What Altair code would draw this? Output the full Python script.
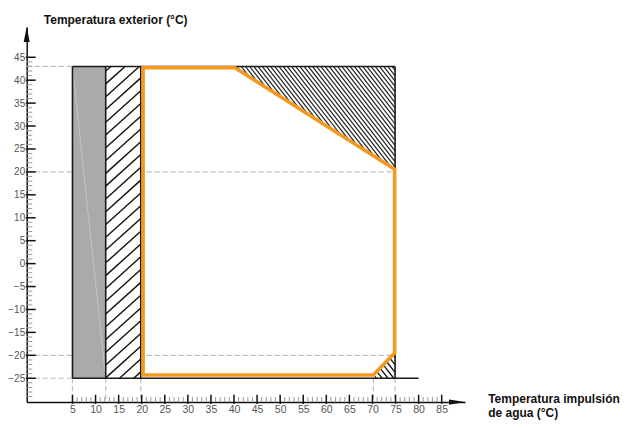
import math
import altair as alt
import pandas as pd

# ---------------- data ----------------
x_ticks = [5, 10, 15, 20, 25, 30, 35, 40, 45, 50, 55, 60, 65, 70, 75, 80, 85]
y_ticks = [-25, -20, -15, -10, -5, 0, 5, 10, 15, 20, 25, 30, 35, 40, 45]
x_min, x_max = -4.92, 90.05
y_min, y_max = -30.2, 51.6

gray_zone = [5, 12.2, -25, 43]       # x, x2, y, y2
hatch_zone = [12.2, 19.8, -25, 43]

orange_x = [20.3, 40.2, 74.8, 74.8, 70.2, 20.3, 20.3]
orange_y = [42.7, 42.7, 20.6, -19.5, -24.3, -24.3, 42.7]

top_tri_x = [40.2, 74.9, 74.9]
top_tri_y = [43, 43, 20.6]
bot_tri_x = [70.2, 74.9, 74.9]
bot_tri_y = [-25, -25, -19.5]

frame = [  # x, y, x2, y2
    (5, 43, 74.9, 43), (74.9, 43, 74.9, 20.6), (74.9, -19.5, 74.9, -25),
    (5, -25, 80, -25), (5, -25, 5, 43), (12.2, -25, 12.2, 43), (19.8, -25, 19.8, 43),
]
dashed = [
    (x_min, 43, 5, 43), (x_min, 20, 74.9, 20), (x_min, -20, 74.9, -20), (x_min, -25, 5, -25),
    (5, -25, 5, y_min), (12.2, -25, 12.2, y_min), (19.8, -25, 19.8, y_min),
    (70.2, -25, 70.2, y_min), (74.9, -25, 74.9, y_min),
]
faint_diag = [(5, 43, 12.2, -25)]

# ---------------- helpers ----------------
SX, SY = 4.615, 4.586  # px per unit (for hatching geometry only)


def hatch(xs, ys, angle_deg, spacing_px):
    pts = [(x * SX, y * SY) for x, y in zip(xs, ys)]
    a = math.radians(angle_deg)
    d = (math.cos(a), math.sin(a))
    n = (-math.sin(a), math.cos(a))
    proj = [n[0] * p[0] + n[1] * p[1] for p in pts]
    lo, hi = min(proj), max(proj)
    segs = []
    c = lo + spacing_px / 2
    m = len(pts)
    while c < hi:
        hits = []
        for i in range(m):
            p1, p2 = pts[i], pts[(i + 1) % m]
            s1 = n[0] * p1[0] + n[1] * p1[1] - c
            s2 = n[0] * p2[0] + n[1] * p2[1] - c
            if (s1 <= 0 < s2) or (s2 <= 0 < s1):
                t = s1 / (s1 - s2)
                hits.append((p1[0] + (p2[0] - p1[0]) * t, p1[1] + (p2[1] - p1[1]) * t))
        if len(hits) >= 2:
            hits.sort(key=lambda p: d[0] * p[0] + d[1] * p[1])
            a0, a1 = hits[0], hits[-1]
            segs.append((a0[0] / SX, a0[1] / SY, a1[0] / SX, a1[1] / SY))
        c += spacing_px
    return segs


def segdf(segs):
    return pd.DataFrame(segs, columns=["x", "y", "x2", "y2"])


FONT = "Liberation Sans"
xs = alt.Scale(domain=[x_min, x_max], nice=False, zero=False)
ys = alt.Scale(domain=[y_min, y_max], nice=False, zero=False)
xaxis = alt.Axis(
    values=x_ticks, ticks=False, grid=False, domainColor="#111", domainWidth=1.5,
    labelFont=FONT, labelFontSize=10.5, labelColor="#555", labelPadding=2,
    labelOverlap=False, labelFlush=False,
    title=["Temperatura impulsión", "de agua (°C)"], titleFont=FONT, titleFontSize=12,
    titleFontWeight="bold", titleColor="#111", titleAlign="left", titleAngle=0,
    titleBaseline="top", titleX=461, titleY=-8.5, titleLineHeight=14,
)
yaxis = alt.Axis(
    values=y_ticks, ticks=False, grid=False, domainColor="#111", domainWidth=1.5,
    labelFont=FONT, labelFontSize=10, labelColor="#555", labelPadding=2,
    labelOverlap=False, labelFlush=False,
    title="Temperatura exterior (°C)", titleFont=FONT, titleFontSize=12,
    titleFontWeight="bold", titleColor="#111", titleAlign="left", titleAngle=0,
    titleBaseline="alphabetic", titleX=16.6, titleY=-3,
)


def X(f):
    return alt.X(f, type="quantitative", scale=xs, axis=xaxis)


def Y(f):
    return alt.Y(f, type="quantitative", scale=ys, axis=yaxis)


def rules(df, color, width, dash=None):
    kw = dict(color=color, strokeWidth=width)
    if dash:
        kw["strokeDash"] = dash
    return alt.Chart(df).mark_rule(**kw).encode(x=X("x"), y=Y("y"), x2="x2", y2="y2")


layers = []
layers.append(rules(segdf(dashed), "#bdbdbd", 1.2, [5, 3]))

rect_df = pd.DataFrame([gray_zone + ["#aaaaaa"], hatch_zone + ["#ffffff"]],
                       columns=["x", "x2", "y", "y2", "c"])
layers.append(alt.Chart(rect_df).mark_rect().encode(
    x=X("x"), x2="x2", y=Y("y"), y2="y2", fill=alt.Fill("c:N", scale=None)))
layers.append(rules(segdf(faint_diag), "#c4c4c4", 1))

hx = [hatch_zone[0], hatch_zone[1], hatch_zone[1], hatch_zone[0]]
hy = [hatch_zone[2], hatch_zone[2], hatch_zone[3], hatch_zone[3]]
layers.append(rules(segdf(hatch(hx, hy, 42, 9.5)), "#111", 1.4))
layers.append(rules(segdf(hatch(top_tri_x, top_tri_y, -52, 3.3)), "#222", 1.2))
layers.append(rules(segdf(hatch(bot_tri_x, bot_tri_y, -52, 4.6)), "#111", 1.3))
layers.append(rules(segdf(frame), "#1a1a1a", 1.6))

orange_df = pd.DataFrame({"x": orange_x, "y": orange_y, "o": list(range(len(orange_x)))})
layers.append(alt.Chart(orange_df).mark_line(
    color="#f39a1e", strokeWidth=3.6, strokeJoin="miter", strokeCap="square").encode(
    x=X("x"), y=Y("y"), order="o:Q"))

# axis ticks
ymaj = [(x_min - 0.2, v, x_min + 1.95, v) for v in y_ticks]
ymin_t = [(x_min - 0.15, v, x_min + 1.2, v) for v in range(-30, 45) if v % 5 != 0]
xmaj = [(v, y_min - 0.4, v, y_min + 1.6) for v in x_ticks]
xmin_t = [(v, y_min, v, y_min + 1.1) for v in range(6, 85) if v % 5 != 0]
layers.append(rules(segdf(ymin_t), "#9a9a9a", 1))
layers.append(rules(segdf(xmin_t), "#9a9a9a", 1))
layers.append(rules(segdf(ymaj), "#111", 1.5))
layers.append(rules(segdf(xmaj), "#111", 1.5))

arrows = pd.DataFrame({"x": [x_min, x_max], "y": [y_max, y_min],
                       "s": ["M0,0L0.4,2L-0.4,2Z", "M0,0L-2,0.33L-2,-0.33Z"],
                       "z": [225, 256]})
layers.append(alt.Chart(arrows).mark_point(filled=True, color="#111", opacity=1).encode(
    x=X("x"), y=Y("y"), shape=alt.Shape("s:N", scale=None),
    size=alt.Size("z:Q", scale=None)))

chart = alt.layer(*layers).properties(
    width=438.3, height=375.1,
    autosize=alt.AutoSizeParams(type="none"),
    padding={"left": 18.7, "top": 19, "right": 159.9, "bottom": 17.5},
).configure_view(stroke=None)

chart.save("out.html", embed_options={"renderer": "svg", "actions": False})
